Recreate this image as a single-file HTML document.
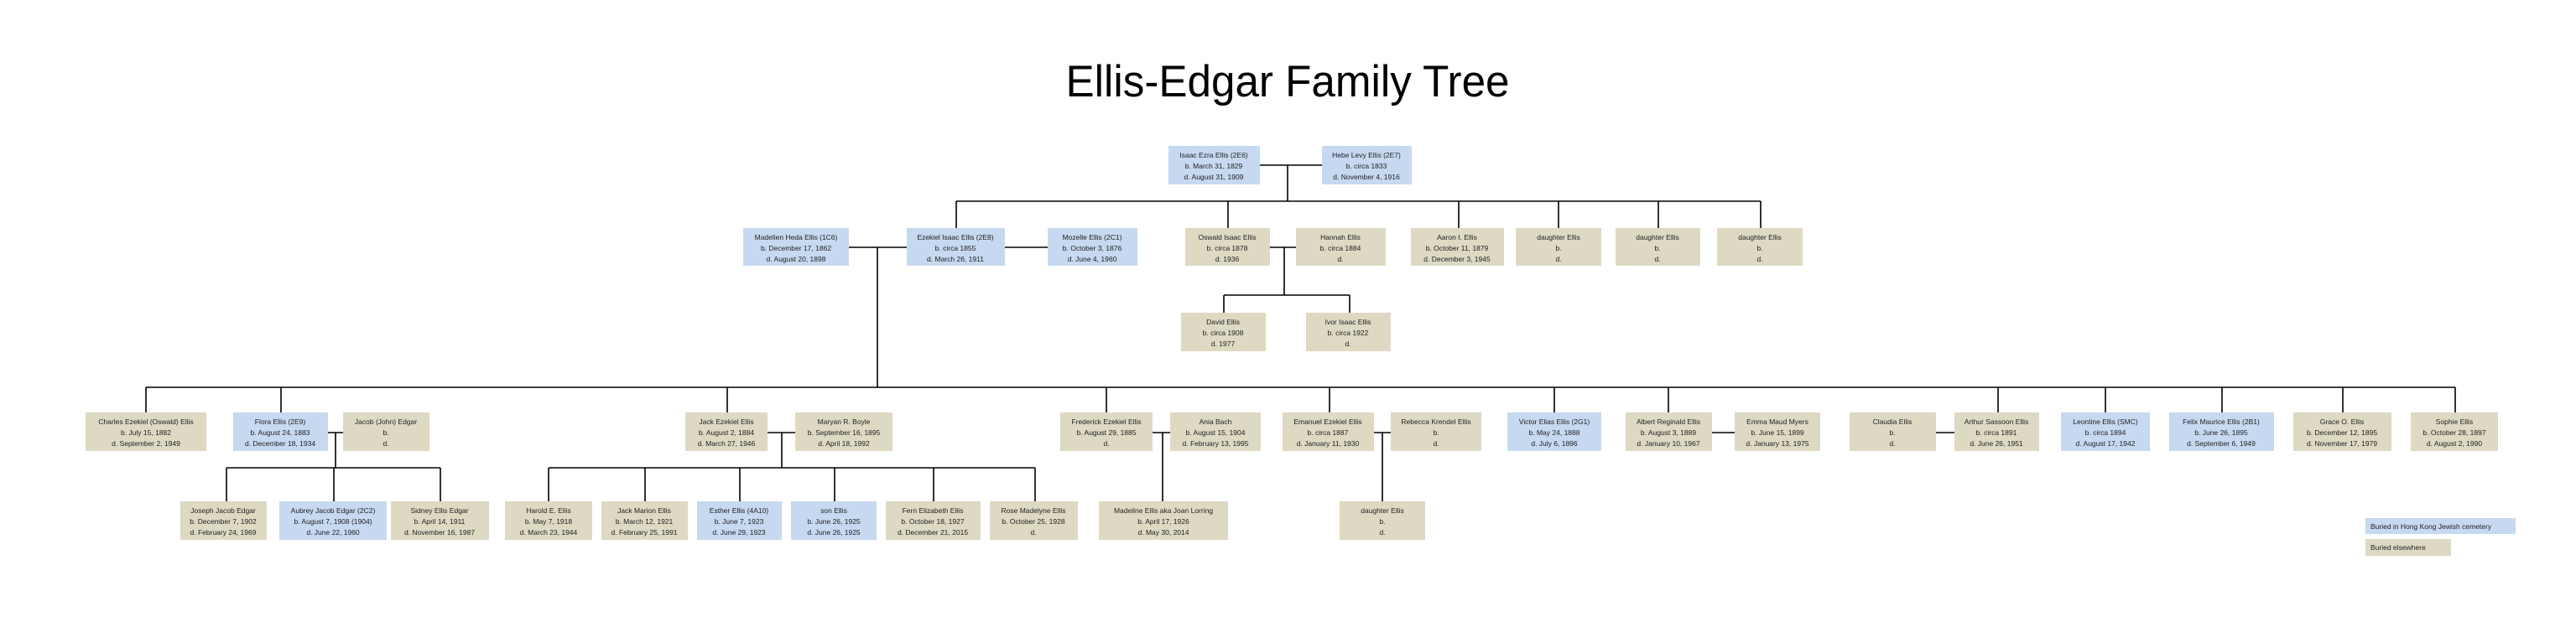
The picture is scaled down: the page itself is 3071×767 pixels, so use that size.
<!DOCTYPE html>
<html><head><meta charset="utf-8"><style>html,body{margin:0;padding:0;background:#fff}svg{display:block}</style></head>
<body>
<svg width="3071" height="767" viewBox="0 0 3071 767" xmlns="http://www.w3.org/2000/svg">
<text x="1535" y="115" font-family="Liberation Sans, sans-serif" font-size="53" text-anchor="middle" textLength="529" lengthAdjust="spacingAndGlyphs" fill="#000">Ellis-Edgar Family Tree</text>
<g stroke="#000" stroke-width="1.6" fill="none">
<path d="M1502 197H1576M1535 197V240M1140 240H2099M1140 240V272M1464 240V272M1739 240V272M1858 240V272M1977 240V272M2099 240V272"/>
<path d="M1012 295H1081M1046 295V462M1198 295H1249M1514 295H1545M1531 295V352M1459 352H1609M1459 352V373M1609 352V373"/>
<path d="M174 462H2927M174 462V492M335 462V492M867 462V492M1319 462V492M1585 462V492M1853 462V492M1989 462V492M2382 462V492M2510 462V492M2649 462V492M2793 462V492M2927 462V492"/>
<path d="M391 516H409M400 516V558M270 558H525M270 558V598M398 558V598M525 558V598"/>
<path d="M915 516H948M932 516V558M654 558H1234M654 558V598M769 558V598M882 558V598M995 558V598M1113 558V598M1234 558V598"/>
<path d="M1374 516H1395M1386 516V598M1638 516H1658M1648 516V598M2041 516H2068M2308 516H2330"/>
</g>
<g stroke="none">
<g fill="#c6d9f0">
<rect x="1393" y="174" width="109" height="46"/><rect x="1576" y="174" width="107" height="46"/>
<rect x="886" y="272" width="126" height="45"/><rect x="1081" y="272" width="117" height="45"/><rect x="1249" y="272" width="107" height="45"/>
<rect x="278" y="492" width="113" height="46"/><rect x="1797" y="492" width="112" height="46"/><rect x="2457" y="492" width="106" height="46"/><rect x="2586" y="492" width="125" height="46"/>
<rect x="333" y="598" width="128" height="46"/><rect x="831" y="598" width="101" height="46"/><rect x="943" y="598" width="102" height="46"/>
<rect x="2820" y="618" width="179" height="19"/>
</g>
<g fill="#ddd9c3">
<rect x="1413" y="272" width="101" height="45"/><rect x="1545" y="272" width="107" height="45"/><rect x="1682" y="272" width="111" height="45"/><rect x="1807" y="272" width="102" height="45"/><rect x="1926" y="272" width="101" height="45"/><rect x="2047" y="272" width="102" height="45"/>
<rect x="1408" y="373" width="101" height="46"/><rect x="1557" y="373" width="101" height="46"/>
<rect x="102" y="492" width="144" height="46"/><rect x="409" y="492" width="103" height="46"/><rect x="817" y="492" width="98" height="46"/><rect x="948" y="492" width="116" height="46"/><rect x="1264" y="492" width="110" height="46"/><rect x="1395" y="492" width="108" height="46"/><rect x="1529" y="492" width="109" height="46"/><rect x="1658" y="492" width="108" height="46"/><rect x="1938" y="492" width="103" height="46"/><rect x="2068" y="492" width="102" height="46"/><rect x="2205" y="492" width="103" height="46"/><rect x="2330" y="492" width="101" height="46"/><rect x="2734" y="492" width="117" height="46"/><rect x="2874" y="492" width="104" height="46"/>
<rect x="215" y="598" width="103" height="46"/><rect x="466" y="598" width="117" height="46"/><rect x="602" y="598" width="104" height="46"/><rect x="717" y="598" width="103" height="46"/><rect x="1056" y="598" width="113" height="46"/><rect x="1180" y="598" width="105" height="46"/><rect x="1310" y="598" width="154" height="46"/><rect x="1597" y="598" width="102" height="46"/>
<rect x="2820" y="643" width="102" height="20"/>
</g>
</g>
<g font-family="Liberation Sans, sans-serif" font-size="8.5" text-anchor="middle" fill="#222">
<text x="1447" y="188">Isaac Ezra Ellis (2E6)</text><text x="1447" y="201">b. March 31, 1829</text><text x="1447" y="214">d. August 31, 1909</text>
<text x="1629" y="188">Hebe Levy Ellis (2E7)</text><text x="1629" y="201">b. circa 1833</text><text x="1629" y="214">d. November 4, 1916</text>

<text x="949" y="286">Madelien Heda Ellis (1C6)</text><text x="949" y="299">b. December 17, 1862</text><text x="949" y="312">d. August 20, 1898</text>
<text x="1139" y="286">Ezekiel Isaac Ellis (2E8)</text><text x="1139" y="299">b. circa 1855</text><text x="1139" y="312">d. March 26, 1911</text>
<text x="1302" y="286">Mozelle Ellis (2C1)</text><text x="1302" y="299">b. October 3, 1876</text><text x="1302" y="312">d. June 4, 1960</text>
<text x="1463" y="286">Oswald Isaac Ellis</text><text x="1463" y="299">b. circa 1878</text><text x="1463" y="312">d. 1936</text>
<text x="1598" y="286">Hannah Ellis</text><text x="1598" y="299">b. circa 1884</text><text x="1598" y="312">d.</text>
<text x="1737" y="286">Aaron I. Ellis</text><text x="1737" y="299">b. October 11, 1879</text><text x="1737" y="312">d. December 3, 1945</text>
<text x="1858" y="286">daughter Ellis</text><text x="1858" y="299">b.</text><text x="1858" y="312">d.</text>
<text x="1976" y="286">daughter Ellis</text><text x="1976" y="299">b.</text><text x="1976" y="312">d.</text>
<text x="2098" y="286">daughter Ellis</text><text x="2098" y="299">b.</text><text x="2098" y="312">d.</text>

<text x="1458" y="387">David Ellis</text><text x="1458" y="400">b. circa 1908</text><text x="1458" y="413">d. 1977</text>
<text x="1607" y="387">Ivor Isaac Ellis</text><text x="1607" y="400">b. circa 1922</text><text x="1607" y="413">d.</text>

<text x="174" y="506">Charles Ezekiel (Oswald) Ellis</text><text x="174" y="519">b. July 15, 1882</text><text x="174" y="532">d. September 2, 1949</text>
<text x="334" y="506">Flora Ellis (2E9)</text><text x="334" y="519">b. August 24, 1883</text><text x="334" y="532">d. December 18, 1934</text>
<text x="460" y="506">Jacob (John) Edgar</text><text x="460" y="519">b.</text><text x="460" y="532">d.</text>
<text x="866" y="506">Jack Ezekiel Ellis</text><text x="866" y="519">b. August 2, 1884</text><text x="866" y="532">d. March 27, 1946</text>
<text x="1006" y="506">Maryan R. Boyle</text><text x="1006" y="519">b. September 16, 1895</text><text x="1006" y="532">d. April 18, 1992</text>
<text x="1319" y="506">Frederick Ezekiel Ellis</text><text x="1319" y="519">b. August 29, 1885</text><text x="1319" y="532">d.</text>
<text x="1449" y="506">Ania Bach</text><text x="1449" y="519">b. August 15, 1904</text><text x="1449" y="532">d. February 13, 1995</text>
<text x="1583" y="506">Emanuel Ezekiel Ellis</text><text x="1583" y="519">b. circa 1887</text><text x="1583" y="532">d. January 11, 1930</text>
<text x="1712" y="506">Rebecca Krendel Ellis</text><text x="1712" y="519">b.</text><text x="1712" y="532">d.</text>
<text x="1853" y="506">Victor Elias Ellis (2G1)</text><text x="1853" y="519">b. May 24, 1888</text><text x="1853" y="532">d. July 6, 1896</text>
<text x="1989" y="506">Albert Reginald Ellis</text><text x="1989" y="519">b. August 3, 1889</text><text x="1989" y="532">d. January 10, 1967</text>
<text x="2119" y="506">Emma Maud Myers</text><text x="2119" y="519">b. June 15, 1899</text><text x="2119" y="532">d. January 13, 1975</text>
<text x="2256" y="506">Claudia Ellis</text><text x="2256" y="519">b.</text><text x="2256" y="532">d.</text>
<text x="2380" y="506">Arthur Sassoon Ellis</text><text x="2380" y="519">b. circa 1891</text><text x="2380" y="532">d. June 26, 1951</text>
<text x="2510" y="506">Leontine Ellis (SMC)</text><text x="2510" y="519">b. circa 1894</text><text x="2510" y="532">d. August 17, 1942</text>
<text x="2648" y="506">Felix Maurice Ellis (2B1)</text><text x="2648" y="519">b. June 26, 1895</text><text x="2648" y="532">d. September 6, 1949</text>
<text x="2792" y="506">Grace O. Ellis</text><text x="2792" y="519">b. December 12, 1895</text><text x="2792" y="532">d. November 17, 1979</text>
<text x="2926" y="506">Sophie Ellis</text><text x="2926" y="519">b. October 28, 1897</text><text x="2926" y="532">d. August 2, 1990</text>

<text x="266" y="612">Joseph Jacob Edgar</text><text x="266" y="625">b. December 7, 1902</text><text x="266" y="638">d. February 24, 1969</text>
<text x="397" y="612">Aubrey Jacob Edgar (2C2)</text><text x="397" y="625">b. August 7, 1908 (1904)</text><text x="397" y="638">d. June 22, 1960</text>
<text x="524" y="612">Sidney Ellis Edgar</text><text x="524" y="625">b. April 14, 1911</text><text x="524" y="638">d. November 16, 1987</text>
<text x="654" y="612">Harold E. Ellis</text><text x="654" y="625">b. May 7, 1918</text><text x="654" y="638">d. March 23, 1944</text>
<text x="768" y="612">Jack Marion Ellis</text><text x="768" y="625">b. March 12, 1921</text><text x="768" y="638">d. February 25, 1991</text>
<text x="881" y="612">Esther Ellis (4A10)</text><text x="881" y="625">b. June 7, 1923</text><text x="881" y="638">d. June 29, 1923</text>
<text x="994" y="612">son Ellis</text><text x="994" y="625">b. June 26, 1925</text><text x="994" y="638">d. June 26, 1925</text>
<text x="1112" y="612">Fern Elizabeth Ellis</text><text x="1112" y="625">b. October 18, 1927</text><text x="1112" y="638">d. December 21, 2015</text>
<text x="1232" y="612">Rose Madelyne Ellis</text><text x="1232" y="625">b. October 25, 1928</text><text x="1232" y="638">d.</text>
<text x="1387" y="612">Madeline Ellis aka Joan Lorring</text><text x="1387" y="625">b. April 17, 1926</text><text x="1387" y="638">d. May 30, 2014</text>
<text x="1648" y="612">daughter Ellis</text><text x="1648" y="625">b.</text><text x="1648" y="638">d.</text>
</g>
<g font-family="Liberation Sans, sans-serif" font-size="8.5" fill="#222">
<text x="2826" y="631">Buried in Hong Kong Jewish cemetery</text>
<text x="2826" y="656">Buried elsewhere</text>
</g>
</svg>
</body></html>
